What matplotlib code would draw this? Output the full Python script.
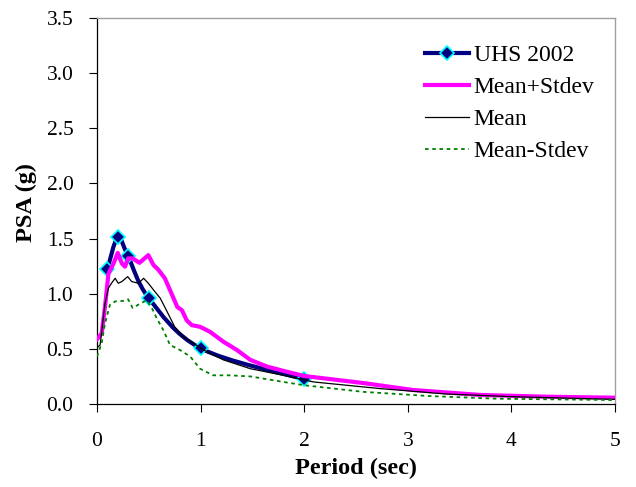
import matplotlib
matplotlib.use("Agg")
import matplotlib.pyplot as plt
from matplotlib.path import Path
from matplotlib.patches import PathPatch
from matplotlib.lines import Line2D

# Uniform hazard spectrum points
uhs_period = [0.1, 0.2, 0.3, 0.5, 1.0, 2.0]
uhs_psa = [1.22, 1.51, 1.34, 0.96, 0.505, 0.224]

# Mean + one standard deviation
plus_period = [0.0, 0.045, 0.077, 0.11, 0.16, 0.2, 0.24, 0.27, 0.30, 0.345, 0.41, 0.495,
               0.545, 0.59, 0.655, 0.72, 0.775, 0.82, 0.865, 0.915, 0.995, 1.09, 1.22,
               1.35, 1.48, 1.64, 1.80, 2.0, 2.57, 3.05, 3.7, 4.34, 5.0]
plus_psa = [0.587, 0.64, 0.88, 1.18, 1.275, 1.37, 1.275, 1.245, 1.32, 1.32, 1.28, 1.35,
            1.26, 1.22, 1.14, 1.00, 0.88, 0.85, 0.76, 0.715, 0.70, 0.655, 0.565,
            0.49, 0.40, 0.34, 0.30, 0.254, 0.19, 0.127, 0.082, 0.066, 0.057]

# Mean
mean_period = [0.0, 0.03, 0.077, 0.11, 0.14, 0.175, 0.205, 0.24, 0.296, 0.335, 0.40, 0.45,
               0.495, 0.545, 0.61, 0.67, 0.75, 0.83, 0.93, 1.03, 1.22, 1.48, 1.80,
               2.09, 2.73, 3.38, 4.02, 5.0]
mean_psa = [0.51, 0.535, 0.91, 1.05, 1.095, 1.14, 1.095, 1.11, 1.155, 1.11, 1.095, 1.14,
            1.095, 1.035, 0.96, 0.85, 0.70, 0.61, 0.55, 0.49, 0.40, 0.32, 0.26,
            0.20, 0.14, 0.09, 0.066, 0.042]

# Mean - one standard deviation
minus_period = [0.0, 0.045, 0.077, 0.125, 0.175, 0.255, 0.30, 0.345, 0.415, 0.48, 0.53,
                0.575, 0.64, 0.705, 0.80, 0.90, 0.995, 1.12, 1.28, 1.48, 1.80, 2.0,
                2.57, 3.21, 3.86, 5.0]
minus_psa = [0.43, 0.55, 0.73, 0.90, 0.93, 0.935, 0.95, 0.87, 0.91, 0.94, 0.87,
             0.78, 0.67, 0.535, 0.49, 0.43, 0.32, 0.26, 0.26, 0.25, 0.20, 0.17,
             0.11, 0.072, 0.048, 0.036]

x_ticks = [0, 1, 2, 3, 4, 5]
y_ticks = [0.0, 0.5, 1.0, 1.5, 2.0, 2.5, 3.0, 3.5]


def smooth_path(xs, ys):
    """Catmull-Rom style smoothed path through the points, as cubic Bezier segments."""
    pts = list(zip(xs, ys))
    verts = [pts[0]]
    codes = [Path.MOVETO]
    n = len(pts)
    for i in range(n - 1):
        p0 = pts[i - 1] if i > 0 else pts[i]
        p1 = pts[i]
        p2 = pts[i + 1]
        p3 = pts[i + 2] if i + 2 < n else pts[i + 1]
        c1 = (p1[0] + (p2[0] - p0[0]) / 6, p1[1] + (p2[1] - p0[1]) / 6)
        c2 = (p2[0] - (p3[0] - p1[0]) / 6, p2[1] - (p3[1] - p1[1]) / 6)
        verts += [c1, c2, p2]
        codes += [Path.CURVE4] * 3
    return Path(verts, codes)


plt.rcParams['font.family'] = ['Liberation Serif', 'DejaVu Serif']

fig = plt.figure(figsize=(6.36, 4.87), dpi=100)
ax = fig.add_axes([97 / 636, 1 - 404 / 487, (615 - 97) / 636, (404 - 18) / 487])

uhs_color = '#000080'
ax.add_patch(PathPatch(smooth_path(uhs_period, uhs_psa), facecolor='none',
                       edgecolor=uhs_color, lw=3.0, capstyle='round', zorder=3))
ax.plot(uhs_period, uhs_psa, ls='none', marker='D', ms=7, mfc=uhs_color,
        mec='#00FFFF', mew=1.2, zorder=3.5)
ax.plot(plus_period, plus_psa, color='#FF00FF', lw=3.0, zorder=4,
        solid_joinstyle='round')
ax.plot(mean_period, mean_psa, color='black', lw=0.9, zorder=5)
ax.plot(minus_period, minus_psa, color='#008000', lw=1.3, ls=(0, (2, 2)), zorder=5)

ax.set_xlim(0, 5)
ax.set_ylim(0, 3.5)
ax.set_xticks(x_ticks)
ax.set_yticks(y_ticks)
ax.set_xticklabels([str(t) for t in x_ticks])
ax.set_yticklabels([f'{t:.1f}' for t in y_ticks])
ax.tick_params(direction='out', length=6, width=0.8, labelsize=15.5)
ax.tick_params(axis='x', pad=14)
ax.tick_params(axis='y', pad=11)

for side in ('top', 'right'):
    ax.spines[side].set_color('#A0A0A0')
    ax.spines[side].set_linewidth(1.0)
for side in ('left', 'bottom'):
    ax.spines[side].set_color('black')
    ax.spines[side].set_linewidth(0.9)

ax.set_xlabel('Period (sec)', fontsize=17.5, fontweight='bold', labelpad=5)
ax.set_ylabel('PSA (g)', fontsize=17.5, fontweight='bold')
ax.yaxis.set_label_coords(-0.116, 0.521)

handles = [
    Line2D([], [], color=uhs_color, lw=3.0, marker='D', ms=7, mfc=uhs_color,
           mec='#00FFFF', mew=1.2),
    Line2D([], [], color='#FF00FF', lw=3.0),
    Line2D([], [], color='black', lw=0.9),
    Line2D([], [], color='#008000', lw=1.3, ls=(0, (2, 2))),
]
labels = ['UHS 2002', 'Mean+Stdev', 'Mean', 'Mean-Stdev']
ax.legend(handles, labels, loc='upper left', bbox_to_anchor=(0.633, 0.931),
          frameon=False, fontsize=17, handlelength=1.86, handletextpad=0.2,
          labelspacing=0.44, borderpad=0, borderaxespad=0)

fig.savefig('out.png', dpi=100)
